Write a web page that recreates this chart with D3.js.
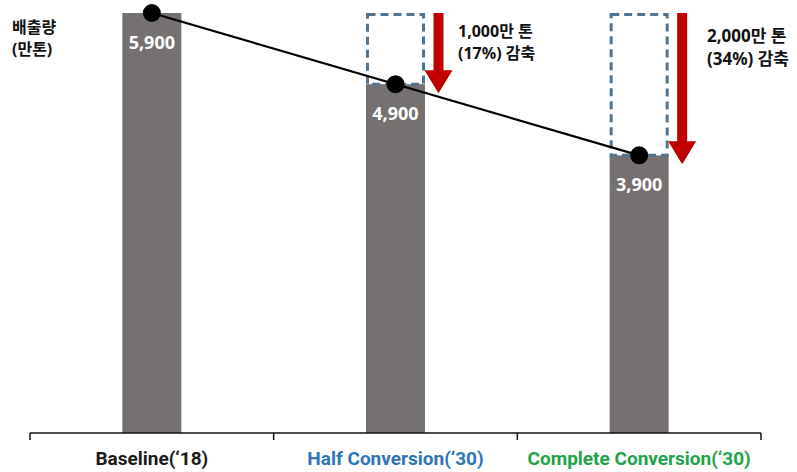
<!DOCTYPE html>
<html>
<head>
<meta charset="utf-8">
<script src="https://cdn.jsdelivr.net/npm/d3@7"></script>
<style>
  html, body { margin: 0; padding: 0; background: #fff; }
  svg { display: block; }
  text { font-family: "Noto Sans", "Noto Sans CJK KR", sans-serif; font-weight: 700; }
  text.cat { font-family: "Liberation Sans Narrow", "Roboto", sans-serif; }
</style>
</head>
<body>
<script>
// Emission scenarios (unit: 만 톤)
const categories = ["Baseline('18)", "Half Conversion('30)", "Complete Conversion('30)"];
const categoryLabels = ["Baseline(\u201818)", "Half Conversion(\u201830)", "Complete Conversion(\u201830)"];
const categoryColors = ["#1a1a1a", "#2e75b6", "#22a34a"];
const emissions = [5900, 4900, 3900];
const valueLabels = ["5,900", "4,900", "3,900"];
const reductionLines1 = ["", "1,000만 톤", "2,000만 톤"];
const reductionLines2 = ["", "(17%) 감축", "(34%) 감축"];

const W = 797, H = 472;
const svg = d3.select("body").append("svg").attr("width", W).attr("height", H);

const x = d3.scaleBand().domain(categories).range([30, 761]).paddingInner(0).paddingOuter(0);
const y = d3.scaleLinear().domain([0, 5900]).range([433, 13]);
const barW = 59;
const cx = c => x(c) + x.bandwidth() / 2;

// Bars
svg.selectAll("rect.bar").data(categories).join("rect")
  .attr("class", "bar")
  .attr("x", c => cx(c) - barW / 2)
  .attr("width", barW)
  .attr("y", (c, i) => y(emissions[i]))
  .attr("height", (c, i) => y(0) - y(emissions[i]))
  .attr("fill", "#767171");

// Dashed outlines showing the reduced portion
svg.selectAll("rect.gap").data(categories.slice(1)).join("rect")
  .attr("class", "gap")
  .attr("x", c => cx(c) - barW / 2 + 1.5)
  .attr("width", barW - 3)
  .attr("y", y(emissions[0]) + 1.5)
  .attr("height", (c, i) => y(emissions[i + 1]) - y(emissions[0]) - 1.5)
  .attr("fill", "none")
  .attr("stroke", "#50748f")
  .attr("stroke-width", 3)
  .attr("stroke-dasharray", "8,5");

// Red downward arrows
categories.slice(1).forEach((c, k) => {
  const i = k + 1;
  const ax = cx(c) + 43;
  const top = y(emissions[0]);
  const tip = y(emissions[i]) + 9;
  const headH = 23, headW = 14, shaftW = 5;
  const p = d3.path();
  p.moveTo(ax - shaftW, top);
  p.lineTo(ax + shaftW, top);
  p.lineTo(ax + shaftW, tip - headH);
  p.lineTo(ax + headW, tip - headH);
  p.lineTo(ax, tip);
  p.lineTo(ax - headW, tip - headH);
  p.lineTo(ax - shaftW, tip - headH);
  p.closePath();
  svg.append("path").attr("d", p.toString()).attr("fill", "#c00000");
});

// Reduction annotations
const annX = [0, 458, 707];
const annY = [0, 37, 42];
const annSize = [0, 16, 17];
categories.slice(1).forEach((c, k) => {
  const i = k + 1;
  const t = svg.append("text")
    .attr("x", annX[i]).attr("y", annY[i])
    .attr("font-size", annSize[i]).attr("fill", "#111");
  t.append("tspan").attr("x", annX[i]).text(reductionLines1[i]);
  t.append("tspan").attr("x", annX[i]).attr("dy", annSize[i] * 1.35).text(reductionLines2[i]);
});

// Trend line through bar tops
const line = d3.line().x(d => cx(d.c)).y(d => y(d.v));
const pts = categories.map((c, i) => ({ c, v: emissions[i] }));
svg.append("path").attr("d", line([pts[0], pts[2]]))
  .attr("fill", "none").attr("stroke", "#000").attr("stroke-width", 2.2);
svg.selectAll("circle.pt").data(pts).join("circle")
  .attr("class", "pt")
  .attr("cx", d => cx(d.c)).attr("cy", d => y(d.v)).attr("r", 9).attr("fill", "#000");

// Value labels inside bars
svg.selectAll("text.val").data(categories).join("text")
  .attr("class", "val")
  .attr("x", c => cx(c))
  .attr("y", (c, i) => y(emissions[i]) + 36)
  .attr("text-anchor", "middle")
  .attr("font-size", 18)
  .attr("fill", "#fff")
  .text((c, i) => valueLabels[i]);

// Y unit label
const yl = svg.append("text").attr("x", 12).attr("y", 33).attr("font-size", 16).attr("fill", "#111");
yl.append("tspan").attr("x", 12).text("배출량");
yl.append("tspan").attr("x", 12).attr("dy", 22).text("(만톤)");

// X axis
const xAxis = d3.axisBottom(x).tickSize(0).tickFormat("");
const ax = svg.append("g").attr("transform", `translate(0,${y(0)})`).call(xAxis);
ax.select(".domain").remove();
svg.append("line").attr("x1", 30).attr("x2", 761).attr("y1", 433).attr("y2", 433)
  .attr("stroke", "#111").attr("stroke-width", 1.5);
const bounds = [30, ...categories.map(c => x(c) + x.bandwidth())];
svg.selectAll("line.sep").data(bounds).join("line")
  .attr("class", "sep")
  .attr("x1", d => d).attr("x2", d => d).attr("y1", 433).attr("y2", 440)
  .attr("stroke", "#111").attr("stroke-width", 1.5);

svg.selectAll("text.cat").data(categories).join("text")
  .attr("class", "cat")
  .attr("x", c => cx(c))
  .attr("y", 465)
  .attr("text-anchor", "middle")
  .attr("font-size", 19)
  .attr("fill", (c, i) => categoryColors[i])
  .text((c, i) => categoryLabels[i]);
</script>
</body>
</html>
